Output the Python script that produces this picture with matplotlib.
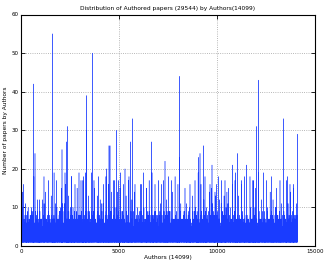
import numpy as np
import matplotlib
matplotlib.use('Agg')
import matplotlib.pyplot as plt

n_authors = 14099

# papers per author: the tall spikes
spike_idx = [119, 628, 714, 1173, 1597, 2092, 2330, 2380, 3330, 3350, 3638,
             4490, 4541, 4860, 5306, 5595, 5679, 6667, 7347, 8077, 8090,
             9046, 9133, 9302, 9745, 10782, 11037, 11513, 12005, 12126,
             13383, 14097]
spike_val = [16, 42, 24, 18, 55, 25, 27, 31, 39, 30, 50,
             26, 26, 30, 20, 27, 33, 27, 22, 44, 23,
             23, 24, 26, 21, 21, 24, 21, 31, 43,
             33, 29]

# medium spikes (14-20 papers)
mid_idx = [851, 1395, 1820, 2075, 2245, 2585, 2755, 2959, 3061, 3180, 3605,
           3724, 3945, 4200, 4370, 4711, 4966, 5051, 5476, 5816, 6157, 6241,
           6412, 6837, 7007, 7177, 7517, 7687, 7857, 8367, 8622, 8878, 9388,
           9643, 9898, 9728, 9983, 10238, 10408, 10578, 10918, 11258, 11683,
           11853, 12364, 12534, 12789, 13044, 13214, 13554, 13724, 13894]
mid_val = [12, 15, 17, 15, 19, 18, 16, 19, 17, 18, 19,
           17, 18, 16, 20, 17, 17, 15, 17, 16, 16, 19,
           15, 16, 17, 16, 18, 17, 15, 15, 16, 17, 18,
           16, 14, 15, 16, 17, 17, 15, 17, 16, 18,
           17, 19, 17, 18, 15, 17, 17, 16, 15]

# highest line in each block of 147 authors, read left to right
block_top = [14, 11, 10, 8, 18, 8, 12, 12, 14, 17, 13, 19, 10, 9, 11, 16,
             13, 18, 9, 15, 8, 17, 19, 13, 9, 15, 13, 12, 11, 18, 16, 14,
             17, 14, 19, 16, 13, 18, 12, 14, 10, 16, 18, 15, 17, 19, 9, 8,
             11, 17, 12, 9, 14, 18, 16, 11, 8, 11, 7, 13, 10, 19, 16, 12,
             10, 14, 11, 13, 18, 11, 13, 14, 6, 16, 19, 13, 17, 18, 8, 10,
             17, 15, 19, 12, 9, 10, 14, 12, 10, 7, 11, 8, 18, 14, 16, 6]

# the dense floor of 1-10 papers, typed as two short runs
floor_a = [0, 0, 0, 0, 0, 0, 0, 6, 0, 0, 0, 0, 0, 0, 0, 0, 0, 0, 0, 0, 0,
           0, 0, 0, 0, 3, 0, 0, 0, 0, 0, 0, 0, 0, 0, 0, 0, 0, 0, 0, 0, 0,
           0, 5, 0, 0, 0, 0, 0, 0, 0, 0, 0, 0, 0, 0, 0, 0, 0, 0, 0, 0, 0,
           0, 0, 0, 4, 0, 0, 0, 0, 0, 0, 0, 0, 0, 0, 0, 0, 0, 0, 0, 0, 0,
           0, 0, 7, 0, 0, 0, 0, 0, 0, 0, 0, 0, 0, 0, 0, 0, 0, 0, 5, 0, 0,
           0, 0, 0, 0, 0, 0, 0, 0, 0, 0, 0, 0, 0, 0, 0, 0, 0, 8, 0, 0, 0,
           0, 0, 0, 0, 0, 0, 0, 0, 0, 0, 0, 3, 0, 0, 0, 0, 0, 0, 0, 0, 0,
           0, 0, 0, 0, 0, 0, 0, 0, 6, 0, 0, 0, 0, 0, 0, 0, 0, 0, 0, 0, 0,
           0, 0, 0, 0, 0, 5, 0, 0, 0, 0, 0, 0, 0, 0, 0, 0, 0, 0, 0, 0, 0,
           4, 0, 0, 0, 0, 0, 0, 0, 0, 0, 0, 0, 0, 0, 6, 0, 0, 0, 0, 0, 0,
           0]
floor_b = [1, 1, 2, 1, 1, 1, 3, 1, 1, 2, 1, 1, 1, 1, 2, 1, 2, 1, 1, 1, 1,
           2, 1, 1, 4, 1, 1, 1, 2, 1, 1, 1, 1, 3, 1, 1, 2, 1, 1, 1, 1, 2,
           1, 1, 2, 1, 1, 1, 3, 1, 1, 1, 2, 1, 1, 1, 1, 5, 1, 2, 1, 1, 1,
           1, 1, 2, 1, 1, 1, 3, 1, 1, 1, 1, 2, 1, 1, 2, 1, 1, 1, 2, 1, 1,
           1, 1, 3, 1, 1, 2, 1, 1, 1, 1, 1, 4, 1, 1, 2, 1, 1, 1, 1, 3, 1,
           1, 1, 2, 1, 1, 1, 2, 1, 1, 2, 1, 1, 1, 1, 3, 1, 1, 2, 1, 1, 1,
           3, 1, 1, 1, 2, 1, 1, 1, 1, 6, 1, 2, 1, 1, 1, 1, 2, 1, 1, 3, 1,
           1, 1, 1, 2, 1, 1, 1, 2, 1, 1, 2, 1, 1, 1, 1, 3, 1, 1, 1, 2, 1,
           1, 4, 1, 1, 2, 1, 1, 1, 1, 3, 1, 1, 2, 1, 1, 1, 1, 2, 1, 1, 2,
           1, 1, 1, 3, 1, 1, 1, 2, 1, 1, 1, 1, 5, 1, 2, 1, 1, 1, 1, 2, 1,
           1, 2, 1, 1, 1, 3, 1, 1, 1, 2, 1, 1, 1, 1, 2, 1, 1, 2, 1, 1, 1,
           1, 3, 1, 1, 2, 1, 1, 1, 1, 4, 1, 1, 2, 1, 1, 1, 3, 1, 1]

papers = (np.resize(floor_a, n_authors) + np.resize(floor_b, n_authors)).astype(float)
block_idx = np.arange(len(block_top)) * 147 + 70
papers[block_idx] = block_top
papers[mid_idx] = mid_val
papers[spike_idx] = spike_val
authors = np.arange(n_authors)

fig = plt.figure(figsize=(3.27, 2.65), dpi=100)
ax = fig.add_axes([21 / 327, 19 / 265, 294 / 327, 231.5 / 265])
ax.plot(authors, papers, color='#1a3cff', lw=0.3)

ax.set_xlim(0, 15000)
ax.set_ylim(0, 60)
ax.set_xticks([0, 5000, 10000, 15000])
ax.set_yticks([0, 10, 20, 30, 40, 50, 60])
ax.grid(True, color='#a0a0a0', linestyle=':', lw=0.6)
ax.tick_params(direction='in', top=True, right=True, labelsize=4, length=3, width=0.6, pad=2)
for s in ax.spines.values():
    s.set_linewidth(0.8)

ax.set_title('Distribution of Authored papers (29544) by Authors(14099)', fontsize=4.2, pad=3)
ax.set_xlabel('Authors (14099)', fontsize=4.2, labelpad=1)
ax.set_ylabel('Number of papers by Authors', fontsize=4.2, labelpad=2)

fig.savefig('out.png', dpi=100)
